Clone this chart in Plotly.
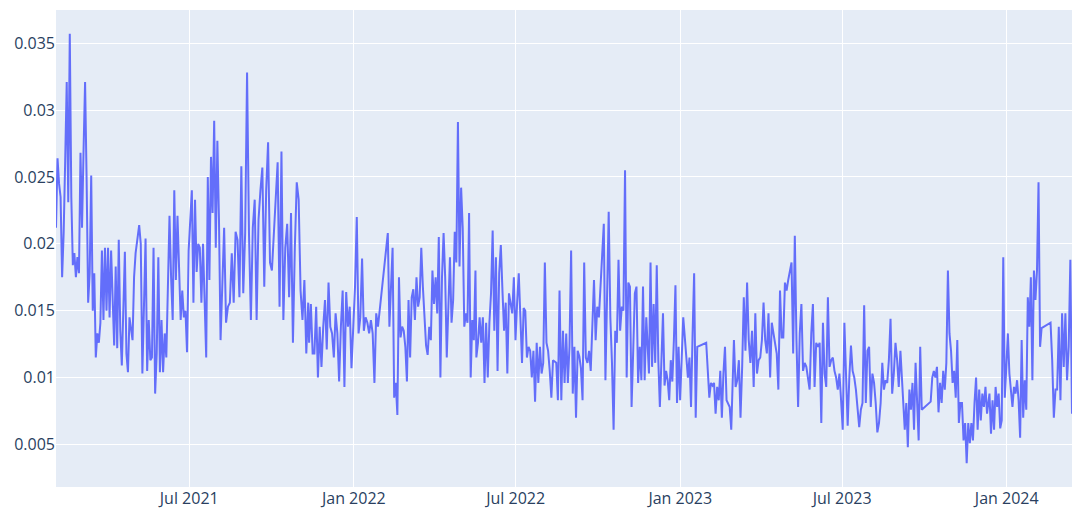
import numpy as np
import pandas as pd
import plotly.graph_objects as go

# Values, in units of 1e-4
seg01 = [212, 264, 245, 235, 175, 208, 262, 321, 231, 357, 235, 184, 193, 175, 190, 178, 268, 212, 270, 321,
         248, 156, 178, 251, 150, 178, 115, 133, 126, 141, 195, 143, 197, 150, 197, 145, 195, 153, 124, 183,
         122, 203, 135, 109, 150, 194, 118, 104, 145, 138, 128, 175, 193]
seg02 = [214, 200, 103, 163, 204, 105, 143, 113, 115, 197, 88, 118, 190, 104, 143, 104, 133, 115, 158, 221,
         175, 143, 240, 173, 221, 183, 143, 165, 145, 150, 119, 195, 218, 240, 156, 233, 179, 200, 197, 156,
         200, 153, 115, 250, 173, 265, 223, 292, 197, 277, 218, 128]
seg03 = [212, 141, 153, 156, 193, 156, 209, 203, 160, 258, 163, 208, 328, 208, 143, 212, 233, 143, 218, 240,
         257, 168, 240, 276, 186, 180, 205, 230, 261, 153, 269, 143, 197, 215, 160, 223, 126, 197, 246, 233,
         165, 143, 173, 118, 156]
seg04 = [126, 155, 118, 118, 153, 100, 138, 108, 138, 158, 121, 171, 138, 133, 115, 148, 133, 97, 138, 165,
         93, 164, 138, 153, 107, 143, 168, 220, 133, 145, 189, 135, 145, 141, 133, 143, 133, 96, 148, 138]
seg05 = [208, 138, 165, 197, 85, 96, 72, 175, 130, 138, 135, 123, 97, 158, 115, 160, 166, 143, 175, 153,
         160, 197, 168, 148, 124, 117, 138, 128, 180, 155, 175, 148, 205, 100, 175, 208, 175, 115, 158, 190,
         141, 158, 209, 186, 291, 183, 242, 212, 138, 148, 141, 223, 100, 143, 128, 180]
seg06 = [115, 126, 145, 126, 145, 96, 141, 100, 141, 163, 210, 135, 190, 105, 178, 199, 165, 135, 156, 103,
         163, 156, 148, 175, 128, 156, 178, 145, 111, 152, 150, 115, 123, 120, 100, 120, 82, 126, 96, 123,
         103, 111, 186, 126, 120, 105, 85, 113, 112, 111, 83, 165]
seg07 = [83, 135, 96, 133, 96, 123, 195, 88, 123, 70, 120, 116, 107, 83, 186, 115, 111, 120, 105, 135,
         173, 128, 153, 145, 171, 195, 215, 98, 171, 224, 145, 111, 61, 135, 126, 188, 135, 153, 150, 255,
         100, 171, 168, 78, 120, 163, 168, 96, 123, 98, 168, 98, 145]
seg08 = [103, 186, 108, 155, 111, 184, 113, 78, 120, 148, 94, 105, 98, 83, 113, 97, 128, 169, 81, 123,
         83, 113, 145, 130, 113, 100, 115, 78, 133, 178, 70, 123]
seg09 = [126, 105, 85, 96, 94, 96, 73, 93, 83, 105, 70, 103, 123, 83, 81, 78, 61]
seg10 = [128, 93, 98, 113, 70, 108, 160, 120, 171, 128, 111, 135, 93, 148, 103, 113, 115, 128, 156, 128,
         118, 148, 100, 141, 133, 126, 118, 91, 165, 130, 130, 171, 165, 173, 180, 186, 118, 206, 128, 78,
         133, 155, 105, 111, 108, 100, 91, 133, 155, 93, 126]
seg11 = [123, 126, 66, 141, 103, 93, 160, 108, 113, 115, 105, 100, 91, 103, 83, 61, 141, 96, 64, 100,
         124, 105, 100, 91, 78, 63, 76, 81, 154, 81, 120, 123, 78, 103, 96, 81, 59, 66, 81, 111,
         91, 98, 96, 113, 144, 88, 103, 126, 113, 93, 120, 100]
seg12 = [61, 81, 48, 91, 76, 96, 61, 111, 78, 53, 123, 76]
seg13 = [82, 100, 105, 100, 108, 74, 96, 81, 105, 91, 111, 180, 133, 120, 96, 105, 85, 128, 66, 81,
         81, 53, 66, 36, 66, 51, 66, 53, 81, 100, 61, 91, 68, 88, 78, 93, 73]
seg14 = [81, 88, 58, 83, 61, 93, 78, 88, 62, 68, 190, 85, 108, 133, 103, 88, 78, 93, 88, 98,
         83, 55, 128, 70, 98, 76, 160, 138, 175, 98, 180, 158, 180, 246, 123, 137]
seg15 = [141, 113, 70, 91, 91, 138, 83, 148, 108, 148, 98, 123, 188, 73]

segment_starts = ["2021-02-02", "2021-05-06", "2021-08-09", "2021-11-12", "2022-02-08",
                  "2022-05-18", "2022-08-21", "2022-11-27", "2023-01-30", "2023-03-02",
                  "2023-06-04", "2023-09-09", "2023-10-08", "2023-12-11", "2024-02-19"]
segment_ends = ["2021-05-02", "2021-08-05", "2021-11-11", "2022-01-28", "2022-05-17",
                "2022-08-19", "2022-11-24", "2023-01-20", "2023-02-27", "2023-06-02",
                "2023-09-06", "2023-09-28", "2023-12-10", "2024-02-09", "2024-03-14"]
segment_values = [seg01, seg02, seg03, seg04, seg05, seg06, seg07, seg08, seg09, seg10,
                  seg11, seg12, seg13, seg14, seg15]

dates = []
vals = []
for s, e, v in zip(segment_starts, segment_ends, segment_values):
    dates.extend(pd.date_range(s, e, periods=len(v)))
    vals.extend([x / 1e4 for x in v])

fig = go.Figure(go.Scatter(x=dates, y=vals, mode="lines",
                           line=dict(color="#636EFA", width=2)))
fig.update_layout(
    template="plotly",
    width=1064, height=502,
    margin=dict(l=48, r=0, t=2, b=23),
    showlegend=False,
    font=dict(family="Open Sans, verdana, arial, sans-serif", size=16, color="#2a3f5f"),
)
fig.update_xaxes(tickfont=dict(size=16))
fig.update_yaxes(tickfont=dict(size=16))
fig.write_html("out.html")
